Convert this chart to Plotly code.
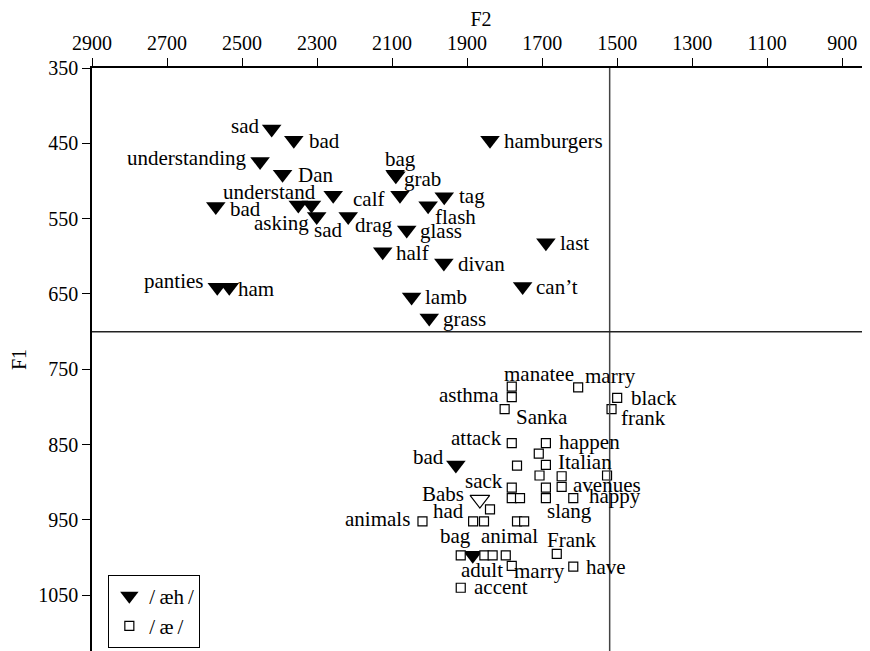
import plotly.graph_objects as go

# ---------------- data ----------------
# /æh/ tokens (filled triangles)
aeh_words = ["sad", "bad", "understanding", "Dan", "understand", "bad", "asking", "", "sad",
             "drag", "bag", "grab", "calf", "tag", "flash", "glass", "half", "divan", "last",
             "can\u2019t", "lamb", "grass", "hamburgers", "panties", "ham", "bad", "adult"]
aeh_f2 = [2421, 2362, 2452, 2392, 2257, 2570, 2350, 2315, 2301,
          2217, 2092, 2090, 2079, 1961, 2004, 2061, 2125, 1962, 1690,
          1752, 2048, 2001, 1839, 2566, 2534, 1930, 1885]
aeh_f1 = [431, 446, 474, 491, 519, 534, 532, 532, 547,
          547, 491, 493, 519, 521, 533, 565, 594, 609, 582,
          640, 654, 682, 446, 641, 641, 877, 997]

# /æ/ tokens (open squares)
ae_words = ["manatee", "asthma", "Sanka", "marry", "black", "frank", "attack", "happen", "",
            "", "Italian", "", "", "", "sack", "", "avenues", "", "", "", "happy", "",
            "animals", "had", "", "", "slang", "bag", "", "animal", "", "marry", "Frank",
            "have", "accent"]
ae_f2 = [1781, 1781, 1800, 1604, 1500, 1515, 1781, 1690, 1709,
         1767, 1690, 1707, 1648, 1527, 1781, 1690, 1648, 1781, 1759, 1690, 1617, 1839,
         2019, 1884, 1855, 1767, 1748, 1917, 1854, 1832, 1797, 1781, 1661,
         1617, 1917]
ae_f1 = [773, 787, 803, 774, 788, 803, 848, 848, 862,
         878, 877, 891, 892, 891, 907, 907, 906, 921, 921, 921, 921, 936,
         952, 952, 952, 952, 952, 997, 997, 997, 997, 1011, 995,
         1012, 1040]

# the odd open-triangle token
babs_word = ["Babs"]
babs_f2 = [1866]
babs_f1 = [923]

# reference lines
ref_f2 = 1520
ref_f1 = 700

x_ticks = [2900, 2700, 2500, 2300, 2100, 1900, 1700, 1500, 1300, 1100, 900]
y_ticks = [350, 450, 550, 650, 750, 850, 950, 1050]

legend_names = ["/\u2009\u00e6h\u2009/", "/\u2009\u00e6\u2009/"]

# ---------------- label placement (pixels: anchor, dx, dy down) ----------------
aeh_place = [("right", -12, -3), ("left", 14, 1), ("right", -13, -3), ("left", 14, 1),
             ("right", -16, -3), ("left", 13, 2), ("right", 12, 18), None, ("left", -4, 14),
             ("left", 6, 9), ("center", 5, -15), ("left", 7, 3), ("right", -15, 4),
             ("left", 14, -1), ("left", 6, 11), ("left", 12, 1), ("left", 12, 1),
             ("left", 13, 1), ("left", 13, 0), ("left", 12, 1), ("left", 12, 0),
             ("left", 13, 1), ("left", 13, 1), ("right", -13, -6), ("left", 8, 2),
             ("right", -11, -8), ("left", -13, 15)]
ae_place = [("left", -9, -13), ("right", -12, -2), ("left", 10, 8), ("left", 6, -11),
            ("left", 13, 0), ("left", 8, 9), ("right", -9, -5), ("left", 12, -1), None,
            None, ("left", 11, -3), None, None, None, ("right", -8, -7), None,
            ("left", 10, -2), None, None, None, ("left", 15, -2), None,
            ("right", -11, -2), ("right", -8, -10), None, None, ("left", 22, -10),
            ("center", -5, -19), None, ("center", 17, -19), None, ("left", 1, 5),
            ("center", 15, -14), ("left", 12, 0), ("left", 12, -1)]
babs_place = [("right", -15, -6)]

FONT = "Liberation Serif"
LABEL_SIZE = 21
fig = go.Figure()

fig.add_trace(go.Scatter(
    x=aeh_f2, y=aeh_f1, mode="markers", name=legend_names[0],
    marker=dict(symbol="triangle-down", size=17, color="black", line=dict(width=0)),
))
fig.add_trace(go.Scatter(
    x=ae_f2, y=ae_f1, mode="markers", name=legend_names[1],
    marker=dict(symbol="square", size=9, color="white", line=dict(color="black", width=1.2)),
))
fig.add_trace(go.Scatter(
    x=babs_f2, y=babs_f1, mode="markers", showlegend=False,
    marker=dict(symbol="triangle-down", size=17, color="white", line=dict(color="black", width=1.2)),
))

annotations = []
def add_labels(words, xs, ys, places):
    for w, x, y, p in zip(words, xs, ys, places):
        if not w or p is None:
            continue
        anchor, dx, dy = p
        annotations.append(dict(
            x=x, y=y, xref="x", yref="y", text=w, showarrow=False,
            xanchor=anchor, yanchor="middle", xshift=dx, yshift=-dy,
            borderpad=0,
            font=dict(family=FONT, size=LABEL_SIZE, color="black"),
        ))

add_labels(aeh_words, aeh_f2, aeh_f1, aeh_place)
add_labels(ae_words, ae_f2, ae_f1, ae_place)
add_labels(babs_word, babs_f2, babs_f1, babs_place)

shapes = [
    dict(type="line", xref="x", yref="paper", x0=ref_f2, x1=ref_f2, y0=0, y1=1,
         line=dict(color="#444", width=1.5)),
    dict(type="line", xref="paper", yref="y", x0=0, x1=1, y0=ref_f1, y1=ref_f1,
         line=dict(color="#222", width=1.5)),
]

# the page body has an 8px margin, so the figure is 862x643 and sits at (8, 8)
fig.update_layout(
    width=862, height=643,
    margin=dict(l=84, r=0, t=60, b=0),
    paper_bgcolor="white", plot_bgcolor="white",
    font=dict(family=FONT, size=20, color="black"),
    annotations=annotations, shapes=shapes,
    legend=dict(x=0.021, y=0.006, xanchor="left", yanchor="bottom",
                bordercolor="black", borderwidth=1, bgcolor="white",
                font=dict(family=FONT, size=21), itemwidth=30,
                tracegroupgap=0),
    xaxis=dict(
        side="top", range=[2900, 826], tickvals=x_ticks, automargin=False,
        showline=True, linecolor="black", linewidth=1.5,
        ticks="outside", ticklen=8, tickcolor="black", tickwidth=1,
        showgrid=False, zeroline=False,
        title=dict(text="F2", standoff=4, font=dict(family=FONT, size=20)),
        tickfont=dict(family=FONT, size=20),
    ),
    yaxis=dict(
        range=[1124, 350], tickvals=y_ticks, automargin=False,
        showline=True, linecolor="black", linewidth=1.5,
        ticks="outside", ticklen=8, tickcolor="black", tickwidth=1,
        showgrid=False, zeroline=False,
        title=dict(text="F1", standoff=14, font=dict(family=FONT, size=20)),
        tickfont=dict(family=FONT, size=20),
    ),
)

fig.write_html("out.html")
